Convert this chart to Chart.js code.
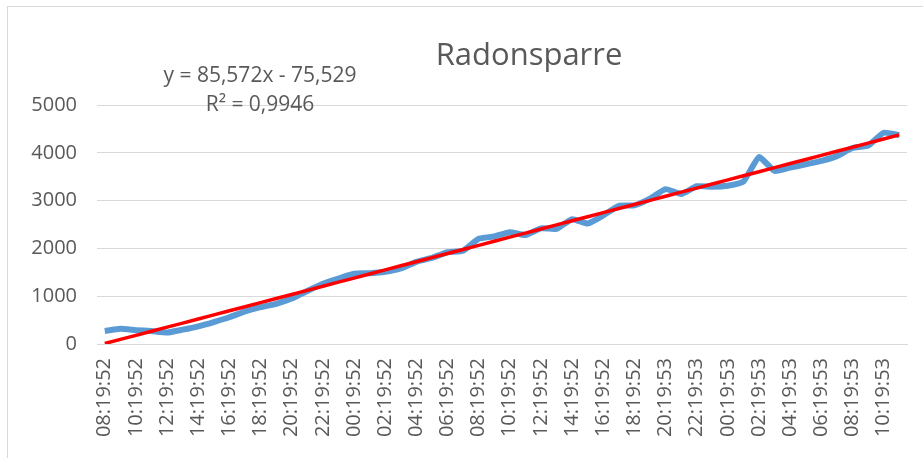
<!DOCTYPE html>
<html lang="no">
<head>
<meta charset="UTF-8">
<title>Radonsparre</title>
<script src="https://cdn.jsdelivr.net/npm/chart.js"></script>
<style>
  html, body { margin: 0; padding: 0; background: #fff; overflow: hidden; }
  #wrap { position: relative; width: 923px; height: 459px; }
  #frame { position: absolute; left: 7px; top: 6px; width: 930px; height: 451px;
           border-left: 1px solid #d9d9d9; border-top: 1px solid #d9d9d9; }
  canvas { position: absolute; left: 0; top: 0; }
</style>
</head>
<body>
<div id="wrap">
  <div id="frame"></div>
  <canvas id="radonChart" width="923" height="459"></canvas>
</div>
<script>
// Kategorier (klokkeslett, en måling per time)
const times = [
  '08:19:52','09:19:52','10:19:52','11:19:52','12:19:52','13:19:52','14:19:52','15:19:52',
  '16:19:52','17:19:52','18:19:52','19:19:52','20:19:52','21:19:52','22:19:52','23:19:52',
  '00:19:52','01:19:52','02:19:52','03:19:52','04:19:52','05:19:52','06:19:52','07:19:52',
  '08:19:52','09:19:52','10:19:52','11:19:52','12:19:52','13:19:52','14:19:52','15:19:52',
  '16:19:52','17:19:52','18:19:52','19:19:52','20:19:53','21:19:53','22:19:53','23:19:53',
  '00:19:53','01:19:53','02:19:53','03:19:53','04:19:53','05:19:53','06:19:53','07:19:53',
  '08:19:53','09:19:53','10:19:53','11:19:53'
];

// Måleverdier
const radon = [
  270, 320, 290, 270, 240, 300, 370, 460, 560, 680,
  770, 840, 950, 1110, 1260, 1370, 1470, 1480, 1510, 1580,
  1720, 1800, 1920, 1950, 2200, 2250, 2340, 2280, 2420, 2410,
  2610, 2520, 2690, 2890, 2900, 3040, 3240, 3140, 3300, 3290,
  3310, 3400, 3910, 3620, 3690, 3760, 3830, 3930, 4100, 4150,
  4420, 4370
];

// Y-akse
const yTicks = [0, 1000, 2000, 3000, 4000, 5000];

// Trendlinje (fra Excel-etiketten)
const trendSlope = 85.572;
const trendIntercept = -75.529;
const trendLabel = ['y = 85,572x - 75,529', 'R\u00b2 = 0,9946'];
const title = 'Radonsparre';

const trend = times.map((t, i) => trendSlope * (i + 1) + trendIntercept);

const FONT = '"Open Sans", sans-serif';
const GREY = '#595959';

// titel og trendlinjeetikett
const textPlugin = {
  id: 'texts',
  afterDraw(chart) {
    const ctx = chart.ctx;
    ctx.save();
    ctx.fillStyle = GREY;
    ctx.textAlign = 'center';
    ctx.textBaseline = 'alphabetic';
    ctx.font = '31px ' + FONT;
    ctx.fillText(title, 529, 65);
    ctx.font = '21px ' + FONT;
    ctx.fillText(trendLabel[0], 260, 82);
    ctx.fillText(trendLabel[1], 260, 111);
    ctx.restore();
  }
};

new Chart(document.getElementById('radonChart'), {
  type: 'line',
  data: {
    labels: times,
    datasets: [
      {
        label: 'Radon',
        data: radon,
        borderColor: '#5b9bd5',
        borderWidth: 6,
        pointRadius: 0,
        tension: 0.15,
        order: 1
      },
      {
        label: 'Lineær',
        data: trend,
        borderColor: '#ff0000',
        borderWidth: 3.5,
        pointRadius: 0,
        tension: 0,
        order: 0
      }
    ]
  },
  options: {
    responsive: false,
    animation: false,
    devicePixelRatio: 1,
    layout: { padding: { top: 105, right: 16, left: 0, bottom: 0 } },
    plugins: {
      legend: { display: false },
      tooltip: { enabled: false },
      title: { display: false }
    },
    scales: {
      x: {
        offset: true,
        grid: { display: false, drawTicks: false },
        border: { display: true, color: '#d9d9d9' },
        ticks: {
          autoSkip: false,
          maxRotation: 90,
          minRotation: 90,
          padding: 14,
          color: GREY,
          font: { family: FONT, size: 20 },
          callback: function(v, i) { return i % 2 === 0 ? times[i] : ''; }
        },
        afterFit: function(s) {
          s.height = 115;
          s.paddingLeft = 0;
          s.paddingRight = 0;
        }
      },
      y: {
        min: 0,
        max: 5000,
        afterBuildTicks: function(s) { s.ticks = yTicks.map(v => ({ value: v })); },
        grid: { color: '#d9d9d9', drawTicks: false },
        border: { display: false },
        ticks: {
          padding: 20,
          color: GREY,
          font: { family: FONT, size: 20 },
          callback: function(v) { return String(v); }
        },
        afterFit: function(s) { s.width = 97; }
      }
    }
  },
  plugins: [textPlugin]
});
</script>
</body>
</html>
